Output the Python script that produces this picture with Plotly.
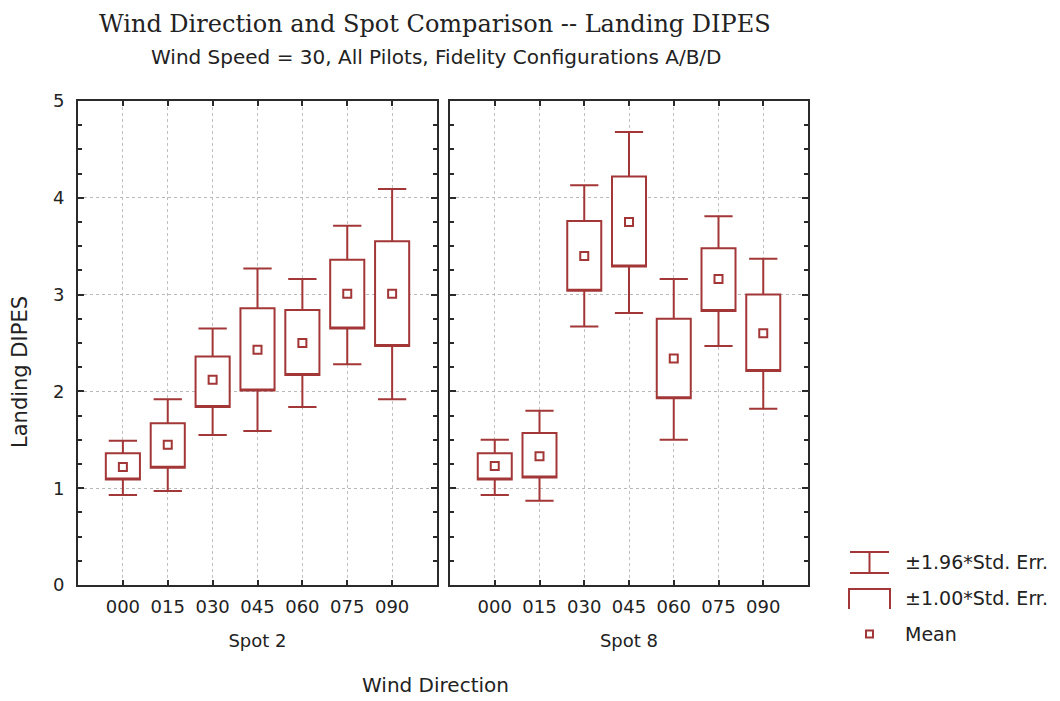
import plotly.graph_objects as go

# ---------------- data ----------------
directions = ["000", "015", "030", "045", "060", "075", "090"]

spot2_mean     = [1.22, 1.45, 2.12, 2.43, 2.50, 3.01, 3.01]
spot2_box_lo   = [1.09, 1.21, 1.84, 2.01, 2.17, 2.65, 2.47]
spot2_box_hi   = [1.36, 1.67, 2.36, 2.86, 2.84, 3.36, 3.55]
spot2_whisk_lo = [0.93, 0.97, 1.55, 1.59, 1.84, 2.28, 1.92]
spot2_whisk_hi = [1.49, 1.92, 2.65, 3.27, 3.16, 3.71, 4.09]

spot8_mean     = [1.23, 1.33, 3.40, 3.75, 2.34, 3.16, 2.60]
spot8_box_lo   = [1.09, 1.11, 3.04, 3.29, 1.93, 2.83, 2.21]
spot8_box_hi   = [1.36, 1.57, 3.76, 4.22, 2.75, 3.48, 3.00]
spot8_whisk_lo = [0.93, 0.87, 2.67, 2.81, 1.50, 2.47, 1.82]
spot8_whisk_hi = [1.50, 1.80, 4.13, 4.68, 3.16, 3.81, 3.37]

panel_titles = ["Spot 2", "Spot 8"]
title_text = "Wind Direction and Spot Comparison -- Landing DIPES"
subtitle_text = "Wind Speed = 30, All Pilots, Fidelity Configurations A/B/D"
legend_labels = ["±1.96*Std. Err.", "±1.00*Std. Err.", "Mean"]

# ---------------- style ----------------
RED = "#A33636"
AXC = "#2a2a2a"
OFF = 8                      # page body margin
W, H = 1052, 693
L, T = 78 - OFF, 101 - OFF
R, B = W - (808 - OFF), H - (585 - OFF)
PW, PH = W - L - R, H - T - B

def px(x):   # screen x -> paper
    return (x - OFF - L) / PW

def py(y):   # screen y -> paper
    return (H - B - (y - OFF)) / PH

SANS = "DejaVu Sans, Verdana, sans-serif"
fig = go.Figure()

panels = [
    ("x", "y", spot2_mean, spot2_box_lo, spot2_box_hi, spot2_whisk_lo, spot2_whisk_hi),
    ("x2", "y2", spot8_mean, spot8_box_lo, spot8_box_hi, spot8_whisk_lo, spot8_whisk_hi),
]
for xa, ya, m, blo, bhi, wlo, whi in panels:
    fig.add_trace(go.Box(
        x=directions, q1=blo, median=blo, q3=bhi,
        lowerfence=wlo, upperfence=whi,
        boxpoints=False, width=0.76, whiskerwidth=0.83,
        line=dict(color=RED, width=2), fillcolor="white",
        xaxis=xa, yaxis=ya, showlegend=False, hoverinfo="skip",
    ))
    fig.add_trace(go.Scatter(
        x=directions, y=m, mode="markers",
        marker=dict(symbol="square-open", size=8, color=RED,
                    line=dict(color=RED, width=2)),
        xaxis=xa, yaxis=ya, showlegend=False, hoverinfo="skip",
    ))

tickfont = dict(family=SANS, size=18, color="#222")
titlefont = dict(family=SANS, size=18, color="#222")
common_x = dict(
    type="category", categoryorder="array", categoryarray=directions,
    range=[-1, 7], showline=True, linecolor=AXC, linewidth=2, mirror="ticks",
    ticks="inside", ticklen=5, tickcolor=AXC, tickwidth=1.5,
    showgrid=True, gridcolor="#c0c0c0", griddash="dot", gridwidth=1,
    tickfont=tickfont, ticklabelstandoff=4, zeroline=False,
)
common_y = dict(
    range=[0, 5], dtick=1, showline=True, linecolor=AXC, linewidth=2, mirror="ticks",
    ticks="inside", ticklen=6, tickcolor=AXC, tickwidth=1.5,
    minor=dict(dtick=0.25, ticks="inside", ticklen=4, tickcolor=AXC, showgrid=False),
    showgrid=True, gridcolor="#b8b8b8", griddash="dot", gridwidth=1,
    tickfont=tickfont, zeroline=False,
)

fig.update_layout(
    width=W, height=H,
    margin=dict(l=L, r=R, t=T, b=B, autoexpand=False),
    paper_bgcolor="white", plot_bgcolor="white",
    showlegend=False,
    xaxis=dict(common_x, domain=[0, px(437)], anchor="y",
               title=dict(text=panel_titles[0], font=titlefont, standoff=19)),
    xaxis2=dict(common_x, domain=[px(450), 1], anchor="y2",
                title=dict(text=panel_titles[1], font=titlefont, standoff=19)),
    yaxis=dict(common_y, anchor="x", ticklabelstandoff=8),
    yaxis2=dict(common_y, anchor="x2", showticklabels=False),
)

ann = []
ann.append(dict(text=title_text, x=px(435), y=py(8), xref="paper", yref="paper",
                showarrow=False, xanchor="center", yanchor="top",
                font=dict(family="DejaVu Serif, serif", size=24, color="#222")))
ann.append(dict(text=subtitle_text, x=px(436), y=py(57), xref="paper", yref="paper",
                showarrow=False, xanchor="center", yanchor="middle",
                font=dict(family=SANS, size=20, color="#222")))
ann.append(dict(text="Wind Direction", x=px(435), y=py(685), xref="paper", yref="paper",
                showarrow=False, xanchor="center", yanchor="middle",
                font=dict(family=SANS, size=20, color="#222")))
ann.append(dict(text="Landing DIPES", x=px(20), y=py(372), xref="paper", yref="paper",
                showarrow=False, xanchor="center", yanchor="middle", textangle=-90,
                font=dict(family=SANS, size=21, color="#222")))
leg_y = [562, 598, 634]
for lbl, yy in zip(legend_labels, leg_y):
    ann.append(dict(text=lbl, x=px(903), y=py(yy), xref="paper", yref="paper",
                    showarrow=False, xanchor="left", yanchor="middle",
                    font=dict(family=SANS, size=19, color="#222")))
fig.update_layout(annotations=ann)

# legend icons
ln = dict(color=RED, width=2)
shapes = [
    dict(type="line", xref="paper", yref="paper", x0=px(850), x1=px(889), y0=py(552), y1=py(552), line=ln),
    dict(type="line", xref="paper", yref="paper", x0=px(850), x1=px(889), y0=py(573), y1=py(573), line=ln),
    dict(type="line", xref="paper", yref="paper", x0=px(869.5), x1=px(869.5), y0=py(552), y1=py(573), line=ln),
    dict(type="path", xref="paper", yref="paper",
         path=f"M {px(849)},{py(609)} L {px(849)},{py(589)} L {px(890)},{py(589)} L {px(890)},{py(609)}",
         line=ln),
    dict(type="rect", xref="paper", yref="paper", x0=px(866), x1=px(873), y0=py(630.5), y1=py(637.5), line=ln),
]
fig.update_layout(shapes=shapes)

fig.write_html("out.html")
